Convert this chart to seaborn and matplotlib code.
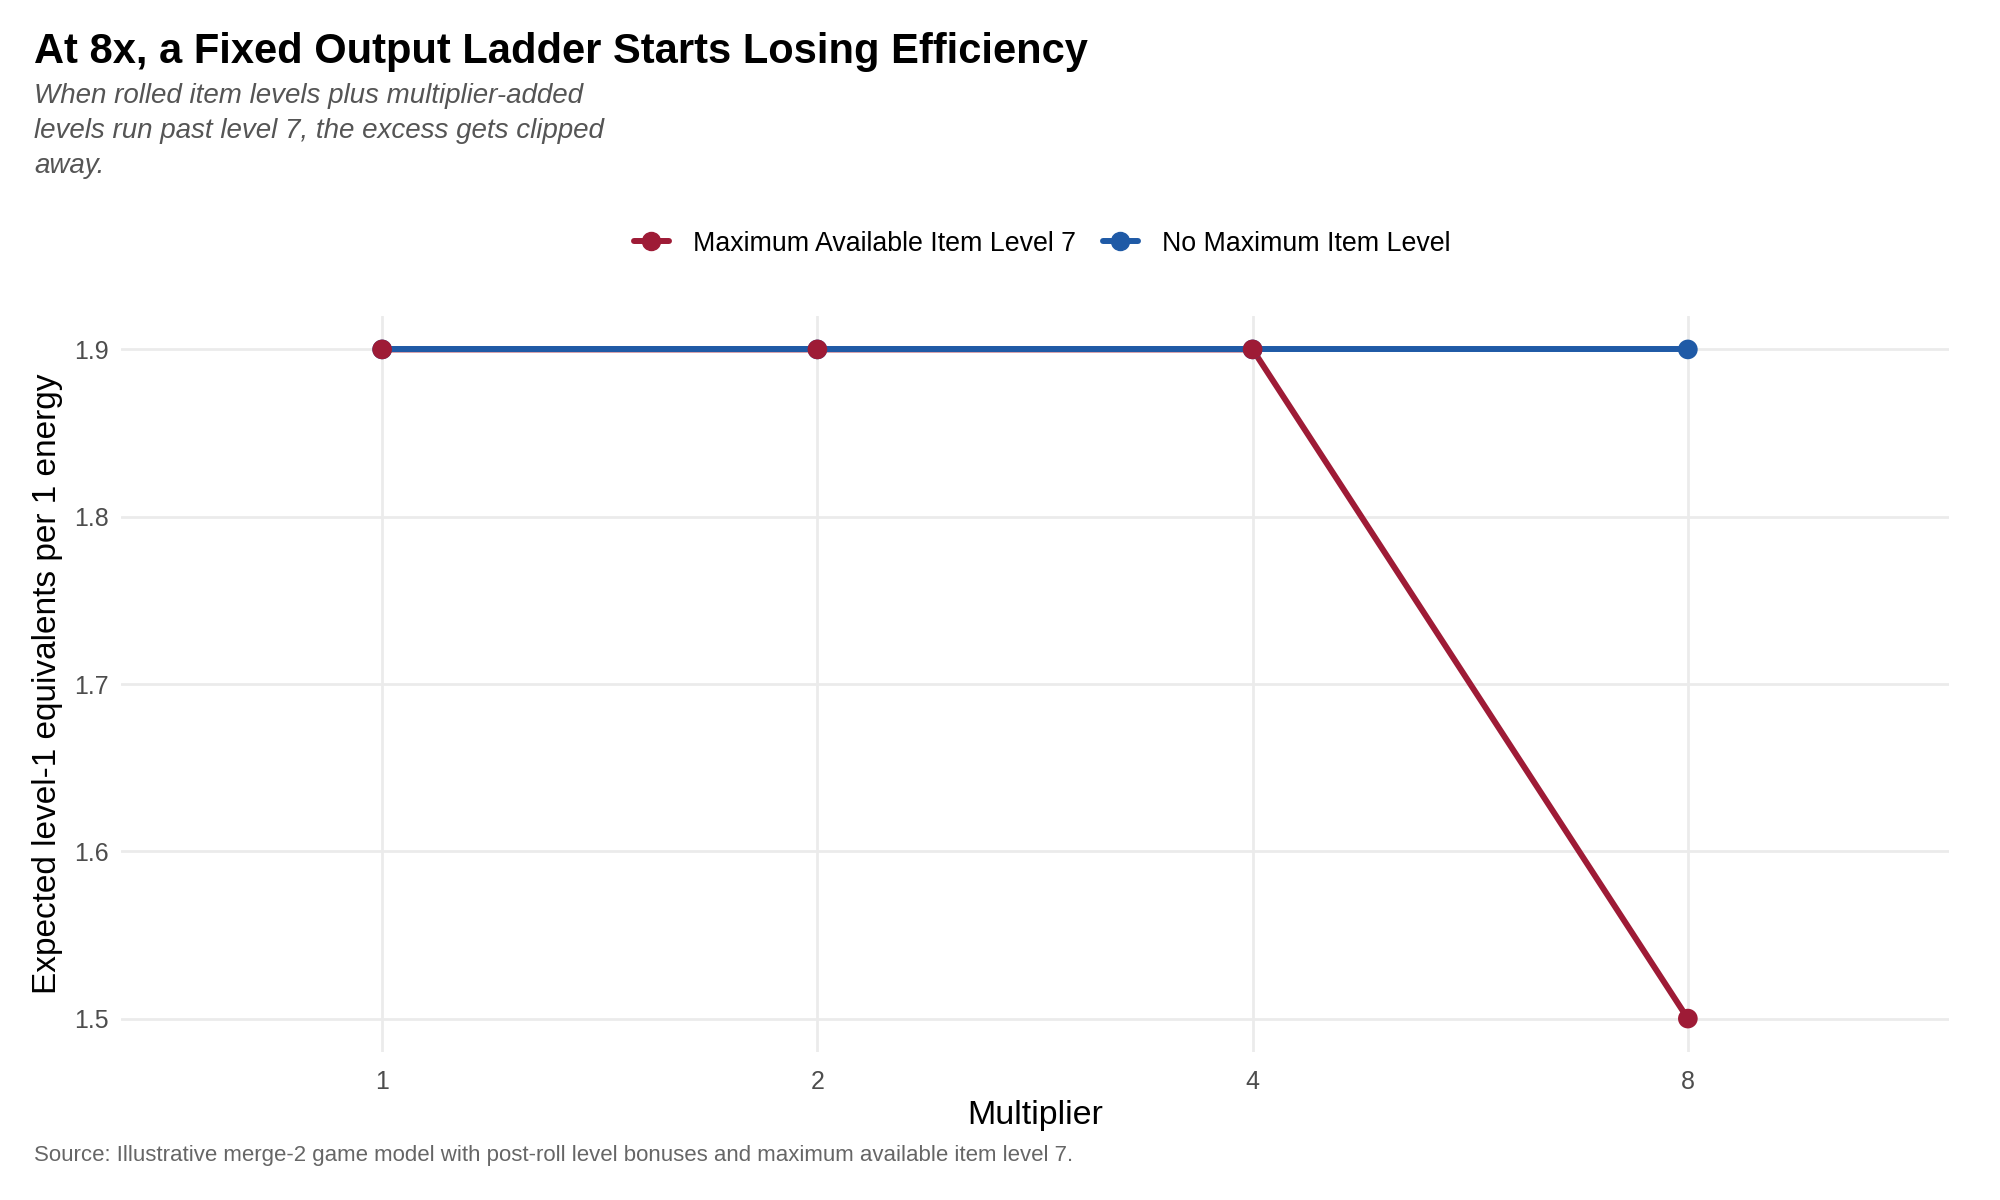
import pandas as pd
import matplotlib.pyplot as plt
from matplotlib.lines import Line2D
import seaborn as sns

# ---- Data ----
multipliers = ["1", "2", "4", "8"]
capped_values = [1.9, 1.9, 1.9, 1.5]     # maximum available item level 7
uncapped_values = [1.9, 1.9, 1.9, 1.9]   # no maximum item level
series_names = ["Maximum Available Item Level 7", "No Maximum Item Level"]
colors = ["#9E1B36", "#1F5AA6"]

df = pd.DataFrame({
    "multiplier": multipliers * 2,
    "value": capped_values + uncapped_values,
    "series": [series_names[0]] * 4 + [series_names[1]] * 4,
})

sns.set_theme(style="whitegrid")
plt.rcParams["font.family"] = ["Liberation Sans", "DejaVu Sans"]
plt.rcParams["text.color"] = "black"

fig = plt.figure(figsize=(20, 12), dpi=100)
ax = fig.add_axes([0.0605, 0.1233, 0.914, 0.6134])

palette = dict(zip(series_names, colors))

sns.lineplot(data=df, x="multiplier", y="value", hue="series",
             hue_order=series_names, palette=palette, linewidth=4.3,
             legend=False, ax=ax, zorder=3)
# points drawn after the lines; reversed rows so the red points sit on top
sns.scatterplot(data=df.iloc[::-1], x="multiplier", y="value", hue="series",
                hue_order=series_names, palette=palette, s=200,
                edgecolor="none", legend=False, ax=ax, zorder=4)

ax.set_xlim(-0.6, 3.6)
ax.set_ylim(1.48, 1.92)
ax.set_yticks([1.5, 1.6, 1.7, 1.8, 1.9])

ax.grid(True, color="#EBEBEB", linewidth=2)
for s in ax.spines.values():
    s.set_visible(False)
ax.tick_params(axis="both", length=0, labelsize=18, labelcolor="#4D4D4D")
ax.tick_params(axis="y", pad=9)
ax.tick_params(axis="x", pad=13)

ax.set_xlabel("Multiplier", fontsize=24.5, color="black", labelpad=4)
ax.set_ylabel("Expected level-1 equivalents per 1 energy", fontsize=24,
              color="black")
ax.yaxis.set_label_coords(-0.032, 0.5)

handles = [Line2D([0], [0], color=c, linewidth=4.3, marker="o", markersize=13)
           for c in colors]
fig.legend(handles, series_names, loc="center", bbox_to_anchor=(0.521, 0.797),
           ncol=2, frameon=False, fontsize=19.3, handlelength=1.3,
           handletextpad=0.9, columnspacing=1.0, labelcolor="black")

fig.text(0.017, 0.957, "At 8x, a Fixed Output Ladder Starts Losing Efficiency",
         fontsize=30, fontweight="bold", va="center", ha="left", color="black")
fig.text(0.017, 0.931,
         "When rolled item levels plus multiplier-added\n"
         "levels run past level 7, the excess gets clipped\n"
         "away.",
         fontsize=20, style="italic", color="#555555", va="top", ha="left",
         linespacing=1.45)
fig.text(0.017, 0.037,
         "Source: Illustrative merge-2 game model with post-roll level bonuses "
         "and maximum available item level 7.",
         fontsize=16, color="#666666", va="center", ha="left")

plt.savefig("out.png", dpi=100)
